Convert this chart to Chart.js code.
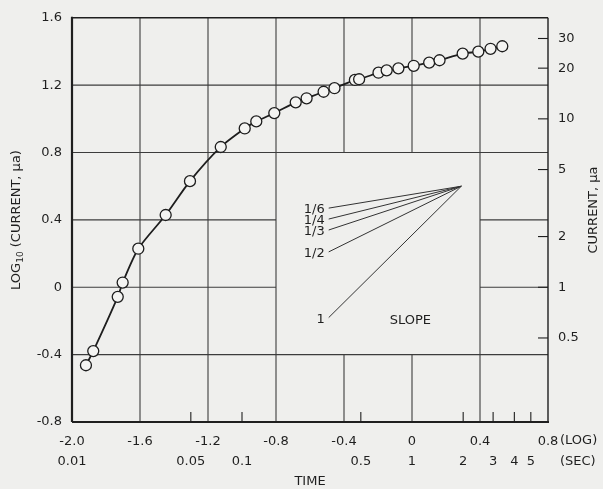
<!DOCTYPE html>
<html>
<head>
<meta charset="utf-8">
<script src="https://cdn.jsdelivr.net/npm/chart.js@4.4.0/dist/chart.umd.min.js"></script>
<style>
  html, body { margin: 0; background: #efefed; }
  canvas { display: block; }
</style>
</head>
<body>
<canvas id="chart" width="603" height="489"></canvas>
<script>
// values (log10 seconds, log10 microamps)
const logTime = [-1.918, -1.875, -1.731, -1.702, -1.610, -1.449, -1.306, -1.125, -0.984, -0.916,
  -0.810, -0.684, -0.620, -0.520, -0.456, -0.336, -0.311, -0.197, -0.149, -0.080,
  0.010, 0.101, 0.162, 0.298, 0.390, 0.462, 0.531];
const logCurrent = [-0.463, -0.379, -0.057, 0.028, 0.229, 0.429, 0.630, 0.833, 0.943, 0.985,
  1.034, 1.098, 1.122, 1.161, 1.182, 1.231, 1.235, 1.274, 1.288, 1.300,
  1.315, 1.334, 1.348, 1.387, 1.399, 1.416, 1.431];

// axes
const xTicks = [-2.0, -1.6, -1.2, -0.8, -0.4, 0, 0.4, 0.8];
const yTicks = [-0.8, -0.4, 0, 0.4, 0.8, 1.2, 1.6];
const secLabels = [0.01, 0.05, 0.1, 0.5, 1, 2, 3, 4, 5];
const secMinor = [0.05, 0.1, 0.5, 2, 3, 4, 5];
const currentTicks = [0.5, 1, 2, 5, 10, 20, 30];

// slope key (lines meet at the apex, open to the left)
const slopeLabels = ['1/6', '1/4', '1/3', '1/2', '1'];
const slopeApex = { x: 0.29, y: 0.60 };
const slopeEndX = -0.49;
const slopeEndY = [0.47, 0.405, 0.34, 0.21, -0.18];

// grid pieces: the box round the slope key is left open
const vGrid = [
  { at: -1.6, spans: [[-0.8, 1.6]] },
  { at: -1.2, spans: [[-0.8, 1.6]] },
  { at: -0.8, spans: [[-0.8, 1.6]] },
  { at: -0.4, spans: [[0.8, 1.6], [-0.8, -0.4]] },
  { at: 0, spans: [[0.8, 1.6], [-0.8, -0.4]] },
  { at: 0.4, spans: [[-0.8, 1.6]] }
];
const hGrid = [
  { at: 1.2, spans: [[-2, 0.8]] },
  { at: 0.8, spans: [[-2, 0.8]] },
  { at: 0.4, spans: [[-2, -0.8], [0.4, 0.8]] },
  { at: 0, spans: [[-2, -0.8], [0.4, 0.8]] },
  { at: -0.4, spans: [[-2, 0.8]] }
];

const ink = '#1f1f1f';
const family = '"DejaVu Sans", sans-serif';

function seg(ctx, x0, y0, x1, y1) {
  ctx.beginPath(); ctx.moveTo(x0, y0); ctx.lineTo(x1, y1); ctx.stroke();
}

const paper = {
  id: 'paper',
  beforeDraw(chart) {
    const ctx = chart.ctx;
    ctx.save();
    ctx.fillStyle = '#efefed';
    ctx.fillRect(0, 0, chart.width, chart.height);
    ctx.restore();
  },
  beforeDatasetsDraw(chart) {
    const { ctx, chartArea: a, scales: { x, y } } = chart;
    ctx.save();
    ctx.strokeStyle = '#3c3c3c';
    ctx.lineWidth = 1.1;
    vGrid.forEach(g => g.spans.forEach(([y0, y1]) => {
      const px = x.getPixelForValue(g.at);
      seg(ctx, px, y.getPixelForValue(y0), px, y.getPixelForValue(y1));
    }));
    hGrid.forEach(g => g.spans.forEach(([x0, x1]) => {
      const py = y.getPixelForValue(g.at);
      seg(ctx, x.getPixelForValue(x0), py, x.getPixelForValue(x1), py);
    }));
    // frame
    ctx.strokeStyle = ink;
    ctx.lineWidth = 1.4;
    seg(ctx, a.left, a.top, a.right, a.top);
    seg(ctx, a.right, a.top, a.right, a.bottom);
    ctx.lineWidth = 2.2;
    seg(ctx, a.left, a.top - 1, a.left, a.bottom);
    seg(ctx, a.left, a.bottom, a.right + 1, a.bottom);
    // inward tick marks
    ctx.lineWidth = 1.1;
    secMinor.forEach(s => {
      const px = x.getPixelForValue(Math.log10(s));
      seg(ctx, px, a.bottom, px, a.bottom - 10);
    });
    currentTicks.forEach(c => {
      const py = y.getPixelForValue(Math.log10(c));
      seg(ctx, a.right, py, a.right - 10, py);
    });
    ctx.restore();
  },
  afterDatasetsDraw(chart) {
    const { ctx, chartArea: a, scales: { x, y } } = chart;
    ctx.save();
    ctx.fillStyle = ink;
    ctx.font = '13px ' + family;
    ctx.textBaseline = 'middle';

    // second row: seconds
    ctx.textAlign = 'center';
    secLabels.forEach(s => ctx.fillText(String(s), x.getPixelForValue(Math.log10(s)), 462));
    ctx.textAlign = 'left';
    const tail = x.getPixelForValue(0.8) + 12;
    ctx.fillText('(LOG)', tail, 441);
    ctx.fillText('(SEC)', tail, 462);
    ctx.textAlign = 'center';
    ctx.fillText('TIME', (a.left + a.right) / 2, 482);

    // slope key labels
    ctx.textAlign = 'right';
    slopeLabels.forEach((lab, i) => {
      ctx.fillText(lab, x.getPixelForValue(slopeEndX) - 4, y.getPixelForValue(slopeEndY[i]) + 2);
    });
    ctx.textAlign = 'center';
    ctx.fillText('SLOPE', x.getPixelForValue(-0.01), y.getPixelForValue(-0.2));

    // left title with subscript
    ctx.save();
    ctx.translate(17, 220);
    ctx.rotate(-Math.PI / 2);
    ctx.textAlign = 'left';
    const big = '13px ' + family, small = '9px ' + family;
    ctx.font = big; const w1 = ctx.measureText('LOG').width;
    ctx.font = small; const w2 = ctx.measureText('10').width;
    ctx.font = big; const w3 = ctx.measureText(' (CURRENT, \u03bca)').width;
    let sx = -(w1 + w2 + w3) / 2;
    ctx.fillText('LOG', sx, 0); sx += w1;
    ctx.font = small; ctx.fillText('10', sx, 4); sx += w2;
    ctx.font = big; ctx.fillText(' (CURRENT, \u03bca)', sx, 0);
    ctx.restore();

    // right title
    ctx.save();
    ctx.translate(594, 210);
    ctx.rotate(-Math.PI / 2);
    ctx.textAlign = 'center';
    ctx.fillText('CURRENT, \u03bca', 0, 0);
    ctx.restore();

    ctx.restore();
  }
};

const curve = {
  data: logTime.map((t, i) => ({ x: t, y: logCurrent[i] })),
  showLine: true,
  tension: 0.25,
  borderColor: '#1e1e1e',
  borderWidth: 1.8,
  pointRadius: 5.5,
  pointBackgroundColor: '#f4f4f2',
  pointBorderColor: '#1e1e1e',
  pointBorderWidth: 1.3
};

const slopeSets = slopeEndY.map(yEnd => ({
  data: [{ x: slopeEndX, y: yEnd }, { x: slopeApex.x, y: slopeApex.y }],
  showLine: true,
  borderColor: '#333',
  borderWidth: 1,
  pointRadius: 0
}));

const tickFont = { family: family, size: 13 };

new Chart(document.getElementById('chart'), {
  type: 'scatter',
  data: { datasets: [...slopeSets, curve] },
  options: {
    responsive: false,
    animation: false,
    layout: { padding: { top: 13 } },
    plugins: { legend: { display: false }, tooltip: { enabled: false } },
    scales: {
      x: {
        type: 'linear', min: -2, max: 0.8,
        grid: { display: false, drawTicks: false },
        border: { display: false },
        afterBuildTicks: s => { s.ticks = xTicks.map(v => ({ value: v })); },
        afterFit: s => { s.height = 67; },
        ticks: {
          color: ink, font: tickFont, padding: 12, maxRotation: 0, autoSkip: false,
          callback: v => v === 0 ? '0' : v.toFixed(1)
        }
      },
      y: {
        type: 'linear', position: 'left', min: -0.8, max: 1.6,
        grid: { display: false, drawTicks: false },
        border: { display: false },
        afterBuildTicks: s => { s.ticks = yTicks.map(v => ({ value: v })); },
        afterFit: s => { s.width = 72; },
        ticks: {
          color: ink, font: tickFont, padding: 10,
          callback: v => v === 0 ? '0' : v.toFixed(1)
        }
      },
      y2: {
        type: 'linear', position: 'right', min: -0.8, max: 1.6,
        grid: { display: false, drawTicks: false },
        border: { display: false },
        afterBuildTicks: s => { s.ticks = currentTicks.map(c => ({ value: Math.log10(c) })); },
        afterFit: s => { s.width = 55; },
        ticks: {
          color: ink, font: tickFont, padding: 10,
          callback: (v, i) => String(currentTicks[i])
        }
      }
    }
  },
  plugins: [paper]
});
</script>
</body>
</html>
